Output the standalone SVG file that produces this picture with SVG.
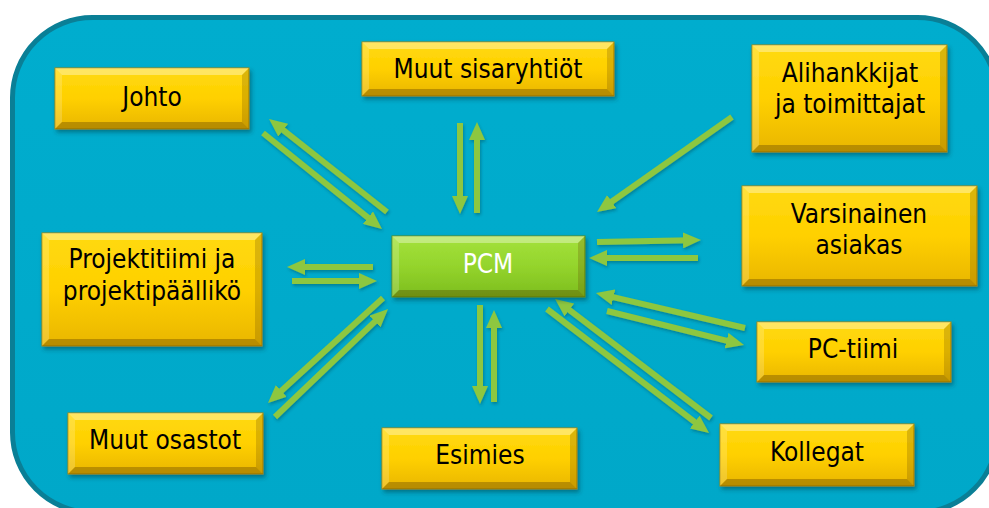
<svg xmlns="http://www.w3.org/2000/svg" width="989" height="508" viewBox="0 0 989 508">
<style>
text{font-family:"DejaVu Sans Condensed","DejaVu Sans",sans-serif;font-stretch:condensed;font-size:26px;text-anchor:middle;fill:#000}
text.w{fill:#fff}
.box{stroke:#B08A00;stroke-width:1}
.y{fill:url(#gy)}
.g{fill:url(#gg);stroke:#5E8F12}
.bt{fill:#fff;opacity:.35}
.bl{fill:#fff;opacity:.18}
.bb{fill:#5a3c00;opacity:.35}
.br{fill:#5a3c00;opacity:.22}
.ar{stroke:#8DC73F;stroke-width:6;fill:none;marker-end:url(#ah)}
</style>
<defs>
<linearGradient id="gy" x1="0" y1="0" x2="0" y2="1">
<stop offset="0" stop-color="#FFDA10"/><stop offset="0.5" stop-color="#FFD000"/><stop offset="1" stop-color="#E9B600"/>
</linearGradient>
<linearGradient id="gg" x1="0" y1="0" x2="0" y2="1">
<stop offset="0" stop-color="#A4E23C"/><stop offset="0.5" stop-color="#94D42C"/><stop offset="1" stop-color="#7CBD1E"/>
</linearGradient>
<linearGradient id="bg" x1="0" y1="0" x2="0" y2="1">
<stop offset="0" stop-color="#00ADCE"/><stop offset="1" stop-color="#00A8C9"/>
</linearGradient>
<filter id="sh" x="-10%" y="-10%" width="130%" height="140%">
<feDropShadow dx="2" dy="3" stdDeviation="2" flood-color="#00303c" flood-opacity="0.45"/>
</filter>
<filter id="ash" x="-10%" y="-10%" width="130%" height="130%">
<feDropShadow dx="1" dy="2" stdDeviation="1.5" flood-color="#00303c" flood-opacity="0.35"/>
</filter>
<marker id="ah" markerUnits="userSpaceOnUse" markerWidth="18" markerHeight="16" refX="8" refY="8" orient="auto">
<path d="M0,0 L18,8 L0,16 Z" fill="#8DC73F"/>
</marker>
</defs>

<rect x="12.5" y="17.5" width="985" height="495" rx="80" ry="80" fill="url(#bg)" stroke="#0A7F96" stroke-width="5"/>

<g id="connectors" filter="url(#ash)">
<line class="ar" x1="387" y1="212" x2="276.9" y2="125.2"/>
<line class="ar" x1="263" y1="133" x2="374.2" y2="222.7"/>
<line class="ar" x1="460" y1="123" x2="460" y2="204"/>
<line class="ar" x1="477" y1="213" x2="477" y2="132"/>
<line class="ar" x1="732" y1="117" x2="605.2" y2="206.2"/>
<line class="ar" x1="597" y1="242" x2="691" y2="240.2"/>
<line class="ar" x1="698" y1="258" x2="599" y2="258"/>
<line class="ar" x1="745" y1="328" x2="605.7" y2="295.3"/>
<line class="ar" x1="607" y1="311" x2="734.3" y2="342.6"/>
<line class="ar" x1="711" y1="418" x2="563" y2="305.1"/>
<line class="ar" x1="547" y1="309" x2="701.1" y2="426.9"/>
<line class="ar" x1="480" y1="305" x2="480" y2="394"/>
<line class="ar" x1="494" y1="402" x2="494" y2="320"/>
<line class="ar" x1="383" y1="298" x2="275.4" y2="396.3"/>
<line class="ar" x1="275" y1="417" x2="380.8" y2="315.9"/>
<line class="ar" x1="373" y1="267" x2="297" y2="267"/>
<line class="ar" x1="292" y1="281" x2="367" y2="281"/>
</g>

<g id="johto">
<rect class="box y" x="55" y="68" width="194" height="61" filter="url(#sh)"/>
<polygon class="bt" points="55,68 249,68 242,75 62,75"/>
<polygon class="bl" points="55,68 62,75 62,122 55,129"/>
<polygon class="bb" points="55,129 62,122 242,122 249,129"/>
<polygon class="br" points="249,68 249,129 242,122 242,75"/>
<text x="152" y="106">Johto</text>
</g>

<g id="muut-sisaryhtiot">
<rect class="box y" x="362" y="42" width="252" height="54" filter="url(#sh)"/>
<polygon class="bt" points="362,42 614,42 607,49 369,49"/>
<polygon class="bl" points="362,42 369,49 369,89 362,96"/>
<polygon class="bb" points="362,96 369,89 607,89 614,96"/>
<polygon class="br" points="614,42 614,96 607,89 607,49"/>
<text x="488" y="78">Muut sisaryhtiöt</text>
</g>

<g id="alihankkijat">
<rect class="box y" x="752" y="45" width="195" height="107" filter="url(#sh)"/>
<polygon class="bt" points="752,45 947,45 940,52 759,52"/>
<polygon class="bl" points="752,45 759,52 759,145 752,152"/>
<polygon class="bb" points="752,152 759,145 940,145 947,152"/>
<polygon class="br" points="947,45 947,152 940,145 940,52"/>
<text x="850" y="82">Alihankkijat</text>
<text x="850" y="113">ja toimittajat</text>
</g>

<g id="varsinainen-asiakas">
<rect class="box y" x="742" y="186" width="235" height="100" filter="url(#sh)"/>
<polygon class="bt" points="742,186 977,186 970,193 749,193"/>
<polygon class="bl" points="742,186 749,193 749,279 742,286"/>
<polygon class="bb" points="742,286 749,279 970,279 977,286"/>
<polygon class="br" points="977,186 977,286 970,279 970,193"/>
<text x="859" y="223">Varsinainen</text>
<text x="859" y="254">asiakas</text>
</g>

<g id="projektitiimi">
<rect class="box y" x="42" y="233" width="220" height="113" filter="url(#sh)"/>
<polygon class="bt" points="42,233 262,233 255,240 49,240"/>
<polygon class="bl" points="42,233 49,240 49,339 42,346"/>
<polygon class="bb" points="42,346 49,339 255,339 262,346"/>
<polygon class="br" points="262,233 262,346 255,339 255,240"/>
<text x="152" y="268">Projektitiimi ja</text>
<text x="152" y="300">projektipäällikö</text>
</g>

<g id="pcm">
<rect class="box g" x="392" y="236" width="193" height="61" filter="url(#sh)"/>
<polygon class="bt" points="392,236 585,236 578,243 399,243"/>
<polygon class="bl" points="392,236 399,243 399,290 392,297"/>
<polygon class="bb" points="392,297 399,290 578,290 585,297"/>
<polygon class="br" points="585,236 585,297 578,290 578,243"/>
<text class="w" x="488" y="273">PCM</text>
</g>

<g id="pc-tiimi">
<rect class="box y" x="757" y="322" width="194" height="60" filter="url(#sh)"/>
<polygon class="bt" points="757,322 951,322 944,329 764,329"/>
<polygon class="bl" points="757,322 764,329 764,375 757,382"/>
<polygon class="bb" points="757,382 764,375 944,375 951,382"/>
<polygon class="br" points="951,322 951,382 944,375 944,329"/>
<text x="853" y="358">PC-tiimi</text>
</g>

<g id="muut-osastot">
<rect class="box y" x="68" y="413" width="195" height="61" filter="url(#sh)"/>
<polygon class="bt" points="68,413 263,413 256,420 75,420"/>
<polygon class="bl" points="68,413 75,420 75,467 68,474"/>
<polygon class="bb" points="68,474 75,467 256,467 263,474"/>
<polygon class="br" points="263,413 263,474 256,467 256,420"/>
<text x="165" y="449">Muut osastot</text>
</g>

<g id="esimies">
<rect class="box y" x="382" y="428" width="195" height="61" filter="url(#sh)"/>
<polygon class="bt" points="382,428 577,428 570,435 389,435"/>
<polygon class="bl" points="382,428 389,435 389,482 382,489"/>
<polygon class="bb" points="382,489 389,482 570,482 577,489"/>
<polygon class="br" points="577,428 577,489 570,482 570,435"/>
<text x="480" y="464">Esimies</text>
</g>

<g id="kollegat">
<rect class="box y" x="720" y="424" width="194" height="62" filter="url(#sh)"/>
<polygon class="bt" points="720,424 914,424 907,431 727,431"/>
<polygon class="bl" points="720,424 727,431 727,479 720,486"/>
<polygon class="bb" points="720,486 727,479 907,479 914,486"/>
<polygon class="br" points="914,424 914,486 907,479 907,431"/>
<text x="817" y="461">Kollegat</text>
</g>
</svg>
